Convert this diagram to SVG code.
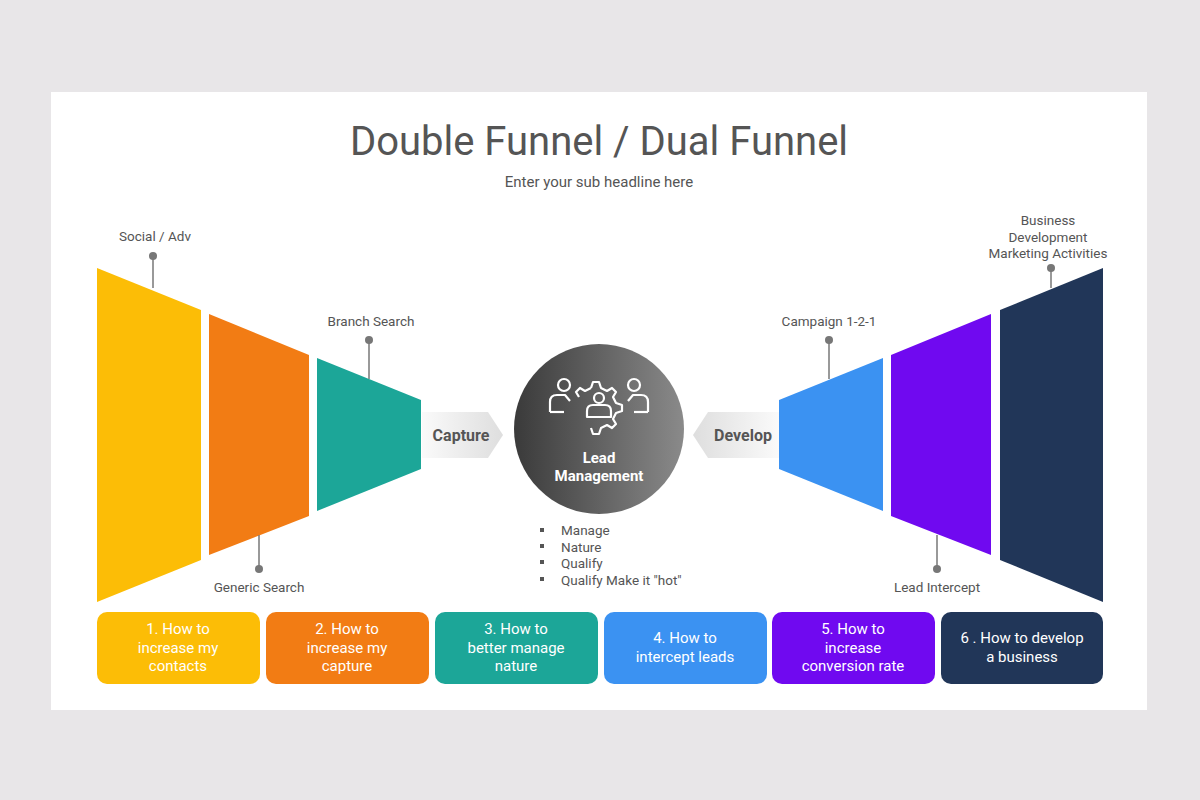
<svg xmlns="http://www.w3.org/2000/svg" width="1200" height="800" viewBox="0 0 1200 800">
<style>
text{font-family:Roboto,"Liberation Sans",sans-serif}
.lbl{font-size:13.5px;fill:#555;text-anchor:middle}
.pin{stroke:#777;stroke-width:1.5}
.dot{fill:#777}
.box{font-size:15px;fill:#fff;text-anchor:middle}
.ic{fill:none;stroke:#fff;stroke-width:2.2;stroke-linejoin:round}
</style>
<defs>
<linearGradient id="circ" x1="0" y1="0" x2="1" y2="0"><stop offset="0" stop-color="#3a3a3a"/><stop offset="1" stop-color="#8a8a8a"/></linearGradient>
<linearGradient id="arrR" x1="0" y1="0" x2="1" y2="0"><stop offset="0" stop-color="#fafafa"/><stop offset="1" stop-color="#dedede"/></linearGradient>
<linearGradient id="arrL" x1="1" y1="0" x2="0" y2="0"><stop offset="0" stop-color="#fafafa"/><stop offset="1" stop-color="#dedede"/></linearGradient>
</defs>
<rect width="1200" height="800" fill="#e8e6e8"/>
<rect x="51" y="92" width="1096" height="618" fill="#fff"/>
<text x="599" y="155" font-size="40" fill="#555" text-anchor="middle">Double Funnel / Dual Funnel</text>
<text x="599" y="187" font-size="15" fill="#555" text-anchor="middle">Enter your sub headline here</text>

<g id="funnel-left">
<polygon points="97,268 201,310 201,560 97,602" fill="#fcbd06"/>
<polygon points="209,314 309,355 309,516 209,555" fill="#f27c14"/>
<polygon points="317,358 421,400 421,469 317,511" fill="#1ca698"/>
</g>
<g id="funnel-right">
<polygon points="779,400 883,358 883,511 779,469" fill="#3b92f2"/>
<polygon points="891,355 991,314 991,555 891,516" fill="#7009f0"/>
<polygon points="1000,310 1103,268 1103,602 1000,560" fill="#213658"/>
</g>

<g id="capture">
<polygon points="422,412 488,412 503,435 488,458 422,458" fill="url(#arrR)"/>
<text x="461" y="441" font-size="16" font-weight="bold" fill="#555" text-anchor="middle">Capture</text>
</g>
<g id="develop">
<polygon points="779,412 708,412 693,435 708,458 779,458" fill="url(#arrL)"/>
<text x="743" y="441" font-size="16" font-weight="bold" fill="#555" text-anchor="middle">Develop</text>
</g>

<g id="lead-management">
<circle cx="599" cy="429" r="85" fill="url(#circ)"/>
<g class="ic">
<path d="M591,388 l2,-6 h6 l2,6 l6,3 l5,-3 l4,4 l-3,5 l3,6 l6,2 v6 l-6,2 l-3,6 l3,5 l-4,4 l-5,-3 l-6,3 l-2,6 h-6 l-2,-6"/>
<path d="M591,388 l-6,3 l-5,-3 l-4,4 l3,5"/>
<circle cx="599" cy="398" r="5"/>
<path d="M587,417 v-6 q0,-6 6,-6 h12 q6,0 6,6 v6 z"/>
<circle cx="564" cy="385" r="6"/>
<path d="M550,412 v-10 q0,-7 7,-7 h8 l5,6"/>
<path d="M550,412 h14"/>
<circle cx="634" cy="385" r="6"/>
<path d="M648,412 v-10 q0,-7 -7,-7 h-8 l-5,6"/>
<path d="M648,412 h-14"/>
</g>
<text x="599" y="463" font-size="15" font-weight="bold" fill="#fff" text-anchor="middle">Lead</text>
<text x="599" y="481" font-size="15" font-weight="bold" fill="#fff" text-anchor="middle">Management</text>
</g>

<g id="bullets" font-size="13.5" fill="#555">
<rect x="540" y="528" width="4" height="4"/><text x="561" y="535">Manage</text>
<rect x="540" y="544" width="4" height="4"/><text x="561" y="552">Nature</text>
<rect x="540" y="560" width="4" height="4"/><text x="561" y="568">Qualify</text>
<rect x="540" y="577" width="4" height="4"/><text x="561" y="585">Qualify Make it "hot"</text>
</g>

<g id="connectors">
<line class="pin" x1="153" y1="256" x2="153" y2="288"/><circle class="dot" cx="153" cy="256" r="4"/>
<line class="pin" x1="369" y1="340" x2="369" y2="379"/><circle class="dot" cx="369" cy="340" r="4"/>
<line class="pin" x1="259" y1="569" x2="259" y2="535"/><circle class="dot" cx="259" cy="569" r="4"/>
<line class="pin" x1="829" y1="340" x2="829" y2="379"/><circle class="dot" cx="829" cy="340" r="4"/>
<line class="pin" x1="937" y1="569" x2="937" y2="535"/><circle class="dot" cx="937" cy="569" r="4"/>
<line class="pin" x1="1051" y1="268" x2="1051" y2="288"/><circle class="dot" cx="1051" cy="268" r="4"/>
</g>
<g id="labels">
<text class="lbl" x="155" y="241">Social / Adv</text>
<text class="lbl" x="371" y="326">Branch Search</text>
<text class="lbl" x="259" y="592">Generic Search</text>
<text class="lbl" x="829" y="326">Campaign 1-2-1</text>
<text class="lbl" x="937" y="592">Lead Intercept</text>
<text class="lbl" x="1048" y="225">Business</text>
<text class="lbl" x="1048" y="242">Development</text>
<text class="lbl" x="1048" y="258">Marketing Activities</text>
</g>

<g id="box1"><rect x="97" y="612" width="163" height="72" rx="10" fill="#fcbd06"/><text class="box" x="178" y="634">1. How to</text><text class="box" x="178" y="653">increase my</text><text class="box" x="178" y="671">contacts</text></g>
<g id="box2"><rect x="266" y="612" width="163" height="72" rx="10" fill="#f27c14"/><text class="box" x="347" y="634">2. How to</text><text class="box" x="347" y="653">increase my</text><text class="box" x="347" y="671">capture</text></g>
<g id="box3"><rect x="435" y="612" width="163" height="72" rx="10" fill="#1ca698"/><text class="box" x="516" y="634">3. How to</text><text class="box" x="516" y="653">better manage</text><text class="box" x="516" y="671">nature</text></g>
<g id="box4"><rect x="604" y="612" width="163" height="72" rx="10" fill="#3b92f2"/><text class="box" x="685" y="643">4. How to</text><text class="box" x="685" y="662">intercept leads</text></g>
<g id="box5"><rect x="772" y="612" width="163" height="72" rx="10" fill="#7009f0"/><text class="box" x="853" y="634">5. How to</text><text class="box" x="853" y="653">increase</text><text class="box" x="853" y="671">conversion rate</text></g>
<g id="box6"><rect x="941" y="612" width="162" height="72" rx="10" fill="#213658"/><text class="box" x="1022" y="643">6 . How to develop</text><text class="box" x="1022" y="662">a business</text></g>
</svg>
